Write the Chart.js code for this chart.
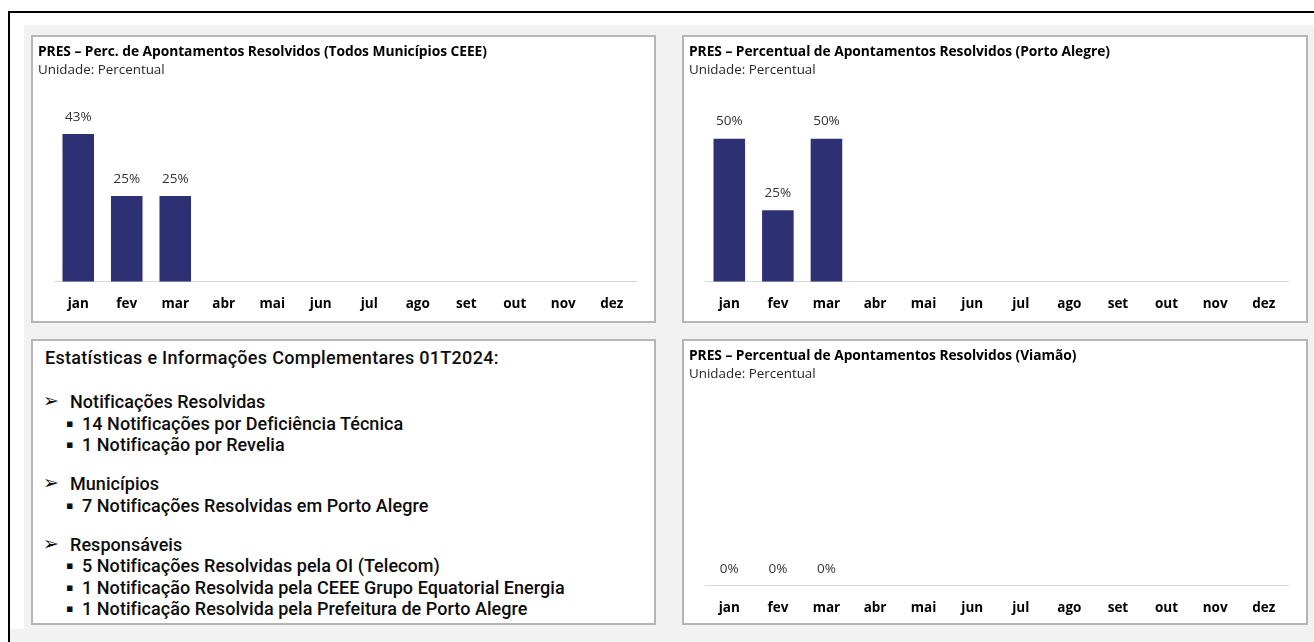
<!DOCTYPE html>
<html lang="pt-BR">
<head>
<meta charset="utf-8">
<title>PRES – Apontamentos Resolvidos</title>
<script src="https://cdn.jsdelivr.net/npm/chart.js@4.4.1/dist/chart.umd.min.js"></script>
<style>
  html, body { margin: 0; padding: 0; background: #fff; }
  body { width: 1314px; height: 642px; position: relative; overflow: hidden; font-family: "Open Sans", "Noto Sans", sans-serif; }
  .frame { position: absolute; left: 8px; top: 11px; right: -4px; bottom: -4px; border-top: 2px solid #000; border-left: 2px solid #000; }
  .fundo { position: absolute; left: 24px; top: 25px; right: 0; bottom: 0; background: #f2f2f2; }
  .rodape { position: absolute; left: 10px; top: 629px; right: 0; bottom: 0; background: #f2f2f2; }
  .painel { position: absolute; box-sizing: border-box; border: 2px solid #b5b5b5; background: #fff; }
  .painel canvas { position: absolute; left: 0; top: 0; }
  .titulo { position: absolute; left: 5px; font-weight: bold; font-size: 13.8px; letter-spacing: -0.05px; color: #000; white-space: nowrap; }
  .sub { position: absolute; left: 5px; font-size: 13.4px; color: #262626; white-space: nowrap; }
  .info { font-family: "Roboto", "Liberation Sans", sans-serif; font-weight: 500; font-size: 18px; letter-spacing: 0.05px; color: #0d0d0d; line-height: 21.5px; padding-top: 6px; }
  .info div { white-space: nowrap; position: relative; }
  .info .cab { padding-left: 12px; margin-bottom: 22.75px; letter-spacing: 0.3px; }
  .info .n1 { padding-left: 37px; }
  .info .n2 { padding-left: 49px; }
  .info .g { margin-top: 17.5px; }
  .info .seta { position: absolute; left: 10px; top: -1px; font-family: "DejaVu Sans"; font-size: 19px; }
  .info .pt { position: absolute; left: 33px; font-family: "DejaVu Sans"; font-size: 11px; }
</style>
</head>
<body>
<div class="frame"></div>
<div class="fundo"></div>
<div class="rodape"></div>

<div class="painel" style="left:31px; top:35px; width:625px; height:288px;">
  <canvas id="chartTodos" width="621" height="289"></canvas>
  <div class="titulo" style="top:4px;">PRES – Perc. de Apontamentos Resolvidos (Todos Municípios CEEE)</div>
  <div class="sub" style="top:23px;">Unidade: Percentual</div>
</div>

<div class="painel" style="left:682px; top:35px; width:626px; height:288px;">
  <canvas id="chartPortoAlegre" width="622" height="289"></canvas>
  <div class="titulo" style="top:4px;">PRES – Percentual de Apontamentos Resolvidos (Porto Alegre)</div>
  <div class="sub" style="top:23px;">Unidade: Percentual</div>
</div>

<div class="painel info" style="left:31px; top:339px; width:625px; height:286px;">
  <div class="cab">Estatísticas e Informações Complementares 01T2024:</div>
  <div class="n1"><span class="seta">➢</span>Notificações Resolvidas</div>
  <div class="n2"><span class="pt">▪</span>14 Notificações por Deficiência Técnica</div>
  <div class="n2"><span class="pt">▪</span>1 Notificação por Revelia</div>
  <div class="n1 g"><span class="seta">➢</span>Municípios</div>
  <div class="n2"><span class="pt">▪</span>7 Notificações Resolvidas em Porto Alegre</div>
  <div class="n1 g"><span class="seta">➢</span>Responsáveis</div>
  <div class="n2"><span class="pt">▪</span>5 Notificações Resolvidas pela OI (Telecom)</div>
  <div class="n2"><span class="pt">▪</span>1 Notificação Resolvida pela CEEE Grupo Equatorial Energia</div>
  <div class="n2"><span class="pt">▪</span>1 Notificação Resolvida pela Prefeitura de Porto Alegre</div>
</div>

<div class="painel" style="left:682px; top:339px; width:626px; height:286px;">
  <canvas id="chartViamao" width="622" height="289"></canvas>
  <div class="titulo" style="top:4px;">PRES – Percentual de Apontamentos Resolvidos (Viamão)</div>
  <div class="sub" style="top:23px;">Unidade: Percentual</div>
</div>

<script>
const meses = ["jan", "fev", "mar", "abr", "mai", "jun", "jul", "ago", "set", "out", "nov", "dez"];
// percentuais por mes (so o 1o trimestre tem dados)
const todosMunicipios = [43, 25, 25, null, null, null, null, null, null, null, null, null];
const portoAlegre = [50, 25, 50, null, null, null, null, null, null, null, null, null];
const viamao = [0, 0, 0, null, null, null, null, null, null, null, null, null];
// maximo do eixo y, como o Excel escolheu em cada grafico
const maxTodos = 50;
const maxPortoAlegre = 60;
const maxViamao = 100;

const corBarra = "#2e3074";

// escreve o valor em cima de cada barra
const rotulos = {
  id: "rotulos",
  afterDatasetsDraw: (chart) => {
    const ctx = chart.ctx;
    const meta = chart.getDatasetMeta(0);
    const valores = chart.data.datasets[0].data;
    ctx.save();
    ctx.font = "13.5px 'Open Sans'";
    ctx.fillStyle = "#333333";
    ctx.textAlign = "center";
    ctx.textBaseline = "middle";
    meta.data.forEach((barra, i) => {
      if (valores[i] === null) return;
      ctx.fillText(`${valores[i]}%`, barra.x, barra.y - 17);
    });
    ctx.restore();
  },
};

const criarGrafico = (id, valores, maximo) => {
  return new Chart(document.getElementById(id), {
    type: "bar",
    data: {
      labels: meses,
      datasets: [
        {
          data: valores,
          backgroundColor: corBarra,
          categoryPercentage: 1,
          barPercentage: 0.65,
        },
      ],
    },
    options: {
      responsive: false,
      animation: false,
      layout: {
        padding: { left: 21, right: 18, top: 73, bottom: 0 },
      },
      plugins: {
        legend: { display: false },
        tooltip: { enabled: false },
      },
      scales: {
        x: {
          grid: { display: false, drawTicks: false },
          border: { display: true, color: "#d9d9d9", width: 1 },
          ticks: {
            color: "#000",
            padding: 14,
            font: { family: "Open Sans", weight: "bold", size: 13.5 },
          },
        },
        y: {
          display: false,
          min: 0,
          max: maximo,
        },
      },
    },
    plugins: [rotulos],
  });
};

criarGrafico("chartTodos", todosMunicipios, maxTodos);
criarGrafico("chartPortoAlegre", portoAlegre, maxPortoAlegre);
criarGrafico("chartViamao", viamao, maxViamao);
</script>
</body>
</html>
